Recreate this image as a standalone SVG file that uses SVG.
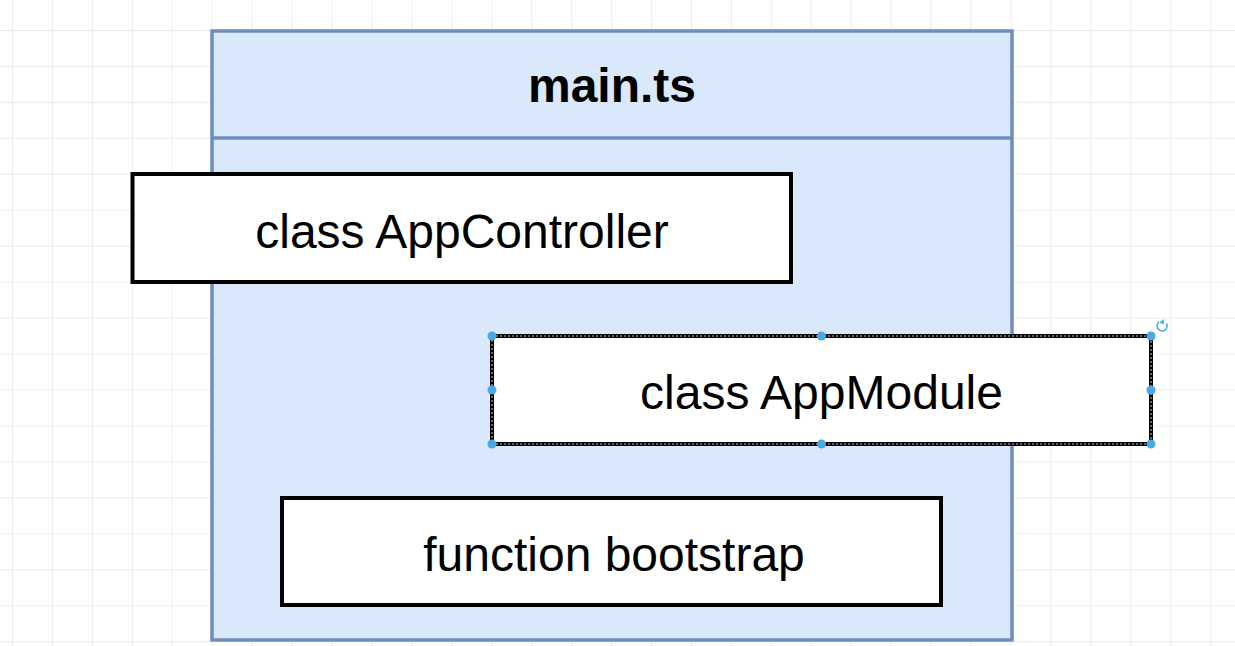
<svg xmlns="http://www.w3.org/2000/svg" width="1235" height="646" viewBox="0 0 1235 646">
<style>
.box{fill:#ffffff;stroke:#000000;stroke-width:4}
.lbl{font-family:"Liberation Sans",Arial,sans-serif;font-size:48px;fill:#000000;text-anchor:middle}
.title{font-weight:bold}
.handle{fill:#4aa8e6}
</style>
<defs>
<pattern id="grid" patternUnits="userSpaceOnUse" x="12" y="30" width="39.94" height="35.95">
<path d="M0.5 0V35.95M0 0.5H39.94" fill="none" stroke="#ececec" stroke-width="1"/>
</pattern>
</defs>
<rect width="1235" height="646" fill="#ffffff"/>
<rect width="1235" height="646" fill="url(#grid)"/>
<g id="main-ts">
<rect x="212" y="31" width="800" height="609" fill="#dae8fc" stroke="#6c8ebf" stroke-width="3.5"/>
<line x1="212" y1="138" x2="1012" y2="138" stroke="#6c8ebf" stroke-width="3.5"/>
<text class="lbl title" x="612" y="102">main.ts</text>
</g>
<g id="app-controller">
<rect class="box" x="132.5" y="174" width="658.5" height="108"/>
<text class="lbl" x="462" y="248">class AppController</text>
</g>
<g id="app-module">
<rect class="box" x="492" y="336" width="659" height="108"/>
<rect x="492" y="336" width="659" height="108" fill="none" stroke="#ffffff" stroke-width="1" stroke-dasharray="2 2" opacity="0.8"/>
<text class="lbl" x="821.5" y="409">class AppModule</text>
<circle class="handle" cx="492" cy="336" r="4.5"/>
<circle class="handle" cx="821.5" cy="336" r="4.5"/>
<circle class="handle" cx="1151" cy="336" r="4.5"/>
<circle class="handle" cx="492" cy="390" r="4.5"/>
<circle class="handle" cx="1151" cy="390" r="4.5"/>
<circle class="handle" cx="492" cy="444" r="4.5"/>
<circle class="handle" cx="821.5" cy="444" r="4.5"/>
<circle class="handle" cx="1151" cy="444" r="4.5"/>
<path d="M1159 322 A5 5 0 1 0 1166.5 323.5" fill="none" stroke="#4aa8e6" stroke-width="1.6"/>
<path d="M1163.5 319 L1159.5 322.5 L1164 324.5 Z" fill="#4aa8e6"/>
</g>
<g id="bootstrap">
<rect class="box" x="282" y="498" width="659" height="107"/>
<text class="lbl" x="614" y="571">function bootstrap</text>
</g>
<g id="connectors"></g>
</svg>
